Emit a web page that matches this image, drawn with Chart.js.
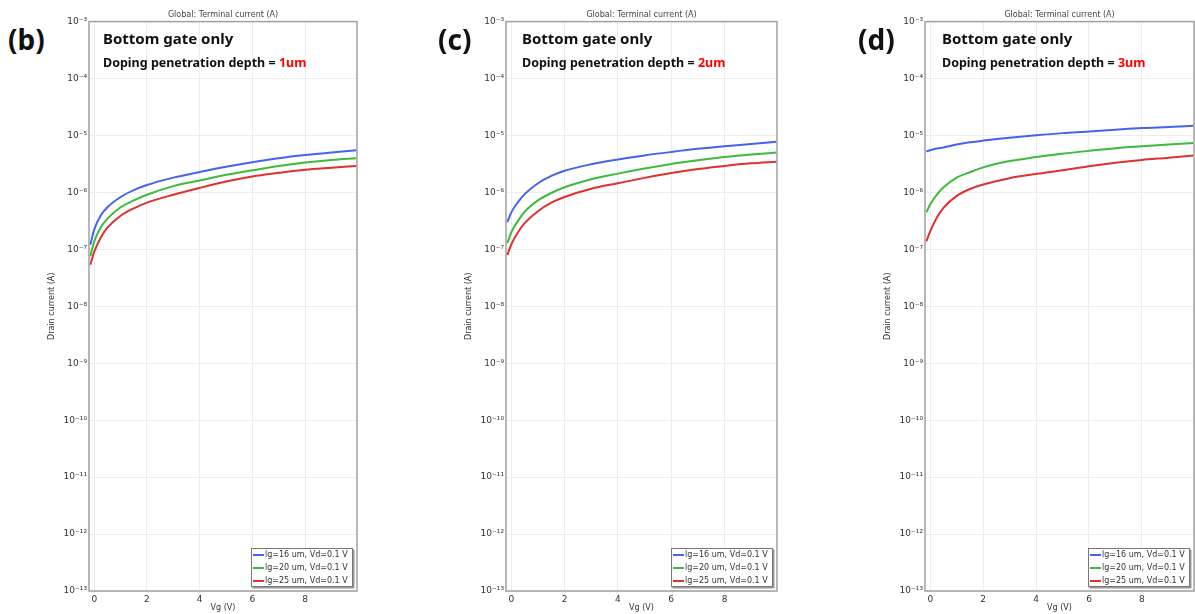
<!DOCTYPE html>
<html>
<head>
<meta charset="utf-8">
<script src="https://cdn.jsdelivr.net/npm/chart.js"></script>
<style>
  body { margin: 0; width: 1195px; height: 614px; background: #fff; position: relative; overflow: hidden; font-family: "Noto Sans", sans-serif; }
  canvas { position: absolute; top: 0; }
  .tag { position: absolute; font-weight: bold; font-size: 28px; line-height: 1; color: #111; }
  .head { position: absolute; font-weight: bold; font-size: 15px; line-height: 1; color: #111; white-space: nowrap; }
  .sub { position: absolute; font-weight: bold; font-size: 12.5px; line-height: 1; color: #111; white-space: nowrap; }
  .sub span { color: #f00; }
</style>
</head>
<body>
<canvas id="chartB" width="314" height="614" style="left:47px"></canvas>
<canvas id="chartC" width="317" height="614" style="left:464px"></canvas>
<canvas id="chartD" width="312" height="614" style="left:883px"></canvas>

<div class="tag" style="left:8px;top:25px">(b)</div>
<div class="tag" style="left:438px;top:25px">(c)</div>
<div class="tag" style="left:858px;top:25px">(d)</div>
<div class="head" style="left:103px;top:31px">Bottom gate only</div>
<div class="head" style="left:522px;top:31px">Bottom gate only</div>
<div class="head" style="left:942px;top:31px">Bottom gate only</div>
<div class="sub" style="left:103px;top:57px">Doping penetration depth = <span id="depthB"></span></div>
<div class="sub" style="left:522px;top:57px">Doping penetration depth = <span id="depthC"></span></div>
<div class="sub" style="left:942px;top:57px">Doping penetration depth = <span id="depthD"></span></div>

<script>
// gate voltage samples (V)
const vg = [-0.15, 0, 0.25, 0.5, 1, 1.5, 2, 3, 4, 5, 6, 7, 8, 9, 9.95];
const seriesLabels = ['lg=16 um, Vd=0.1 V', 'lg=20 um, Vd=0.1 V', 'lg=25 um, Vd=0.1 V'];
const depths = ['1um', '2um', '3um'];
const xTicks = [0, 2, 4, 6, 8];
const yTickExps = [-13, -12, -11, -10, -9, -8, -7, -6, -5, -4, -3];
const yTickLabels = ['10⁻¹³', '10⁻¹²', '10⁻¹¹', '10⁻¹⁰', '10⁻⁹', '10⁻⁸', '10⁻⁷', '10⁻⁶', '10⁻⁵', '10⁻⁴', '10⁻³'];

// drain current (A), depth = 1um
const idB16 = [1.20e-7, 2.24e-7, 3.98e-7, 5.50e-7, 8.32e-7, 1.10e-6, 1.35e-6, 1.82e-6, 2.29e-6, 2.82e-6, 3.39e-6, 3.98e-6, 4.52e-6, 5.01e-6, 5.50e-6];
const idB20 = [7.59e-8, 1.38e-7, 2.45e-7, 3.47e-7, 5.50e-7, 7.24e-7, 9.12e-7, 1.29e-6, 1.62e-6, 2.04e-6, 2.45e-6, 2.92e-6, 3.35e-6, 3.72e-6, 3.98e-6];
const idB25 = [5.37e-8, 9.12e-8, 1.62e-7, 2.40e-7, 3.89e-7, 5.25e-7, 6.61e-7, 9.12e-7, 1.20e-6, 1.55e-6, 1.91e-6, 2.21e-6, 2.51e-6, 2.72e-6, 2.92e-6];
// depth = 2um
const idC16 = [3.02e-7, 4.47e-7, 6.76e-7, 9.33e-7, 1.45e-6, 1.95e-6, 2.40e-6, 3.13e-6, 3.80e-6, 4.47e-6, 5.13e-6, 5.82e-6, 6.46e-6, 7.08e-6, 7.76e-6];
const idC20 = [1.29e-7, 2.00e-7, 3.16e-7, 4.57e-7, 7.24e-7, 9.77e-7, 1.23e-6, 1.70e-6, 2.14e-6, 2.63e-6, 3.16e-6, 3.67e-6, 4.17e-6, 4.62e-6, 5.01e-6];
const idC25 = [7.94e-8, 1.23e-7, 2.00e-7, 2.88e-7, 4.68e-7, 6.61e-7, 8.32e-7, 1.16e-6, 1.45e-6, 1.80e-6, 2.19e-6, 2.57e-6, 2.92e-6, 3.24e-6, 3.47e-6];
// depth = 3um
const idD16 = [5.25e-6, 5.50e-6, 5.89e-6, 6.17e-6, 6.92e-6, 7.59e-6, 8.13e-6, 9.12e-6, 1.01e-5, 1.10e-5, 1.17e-5, 1.26e-5, 1.35e-5, 1.41e-5, 1.48e-5];
const idD20 = [4.47e-7, 6.17e-7, 9.12e-7, 1.23e-6, 1.82e-6, 2.26e-6, 2.75e-6, 3.55e-6, 4.17e-6, 4.79e-6, 5.37e-6, 5.96e-6, 6.46e-6, 6.92e-6, 7.41e-6];
const idD25 = [1.38e-7, 2.09e-7, 3.63e-7, 5.37e-7, 8.71e-7, 1.15e-6, 1.38e-6, 1.78e-6, 2.11e-6, 2.45e-6, 2.88e-6, 3.31e-6, 3.72e-6, 4.07e-6, 4.47e-6];

const lineColors = ['#4563ee', '#3cbb3c', '#e03030'];

// frame around the plot area + legend box in the lower right corner
const frameLegend = {
    id: 'frameLegend',
    afterDraw(chart) {
        const ctx = chart.ctx;
        const a = chart.chartArea;
        ctx.save();
        ctx.strokeStyle = '#a0a0a0';
        ctx.lineWidth = 1.5;
        ctx.strokeRect(a.left, a.top, a.right - a.left, a.bottom - a.top);

        const w = 102, h = 39;
        const bx = a.right - 4 - w, by = a.bottom - 4 - h;
        ctx.fillStyle = 'rgba(0,0,0,0.4)';
        ctx.fillRect(bx + 1.5, by + 1.5, w, h);
        ctx.fillStyle = '#fff';
        ctx.fillRect(bx, by, w, h);
        ctx.strokeStyle = '#777';
        ctx.lineWidth = 1;
        ctx.strokeRect(bx + 0.5, by + 0.5, w - 1, h - 1);
        ctx.font = '8px "DejaVu Sans"';
        ctx.textBaseline = 'middle';
        chart.data.datasets.forEach((ds, i) => {
            const ry = by + 7 + i * 13;
            ctx.strokeStyle = ds.borderColor;
            ctx.lineWidth = 2;
            ctx.beginPath();
            ctx.moveTo(bx + 2, ry);
            ctx.lineTo(bx + 13, ry);
            ctx.stroke();
            ctx.fillStyle = '#333';
            ctx.fillText(ds.label, bx + 14, ry);
        });
        ctx.restore();
    }
};

function makePanel(id, series, rightPad) {
    new Chart(document.getElementById(id), {
        type: 'line',
        data: {
            datasets: series.map((arr, i) => ({
                label: seriesLabels[i],
                data: vg.map((v, k) => ({ x: v, y: arr[k] })),
                borderColor: lineColors[i],
                borderWidth: 2,
                pointRadius: 0,
                fill: false,
                cubicInterpolationMode: 'monotone'
            }))
        },
        options: {
            responsive: false,
            animation: false,
            devicePixelRatio: 1,
            layout: { padding: { left: 0, right: rightPad, top: 0, bottom: 0 } },
            plugins: {
                legend: { display: false },
                tooltip: { enabled: false },
                title: {
                    display: true,
                    text: 'Global: Terminal current (A)',
                    fullSize: false,
                    color: '#444',
                    font: { family: 'DejaVu Sans', size: 8, weight: 'normal' },
                    padding: { top: 10, bottom: 2 }
                }
            },
            scales: {
                x: {
                    type: 'linear',
                    min: -0.2,
                    max: 9.97,
                    afterBuildTicks: s => { s.ticks = xTicks.map(v => ({ value: v })); },
                    afterFit: s => { s.height = 23; },
                    grid: { color: '#ededed', drawTicks: false },
                    border: { display: false },
                    ticks: { color: '#333', padding: 3, font: { family: 'DejaVu Sans', size: 9 } },
                    title: {
                        display: true, text: 'Vg (V)', color: '#333',
                        font: { family: 'DejaVu Sans', size: 8 }, padding: { top: 0, bottom: 1 }
                    }
                },
                y: {
                    type: 'logarithmic',
                    min: 1e-13,
                    max: 1e-3,
                    afterBuildTicks: s => { s.ticks = yTickExps.map(e => ({ value: Math.pow(10, e) })); },
                    afterFit: s => { s.width = 42; },
                    grid: { color: '#ededed', drawTicks: false },
                    border: { display: false },
                    ticks: {
                        color: '#333', padding: 2, font: { family: 'DejaVu Sans', size: 9 },
                        callback: (v, i) => yTickLabels[i]
                    },
                    title: {
                        display: true, text: 'Drain current (A)', color: '#333',
                        font: { family: 'DejaVu Sans', size: 8 }, padding: { top: 0, bottom: 0 }
                    }
                }
            }
        },
        plugins: [frameLegend]
    });
}

document.getElementById('depthB').textContent = depths[0];
document.getElementById('depthC').textContent = depths[1];
document.getElementById('depthD').textContent = depths[2];

makePanel('chartB', [idB16, idB20, idB25], 4);
makePanel('chartC', [idC16, idC20, idC25], 4);
makePanel('chartD', [idD16, idD20, idD25], 1);
</script>
</body>
</html>
